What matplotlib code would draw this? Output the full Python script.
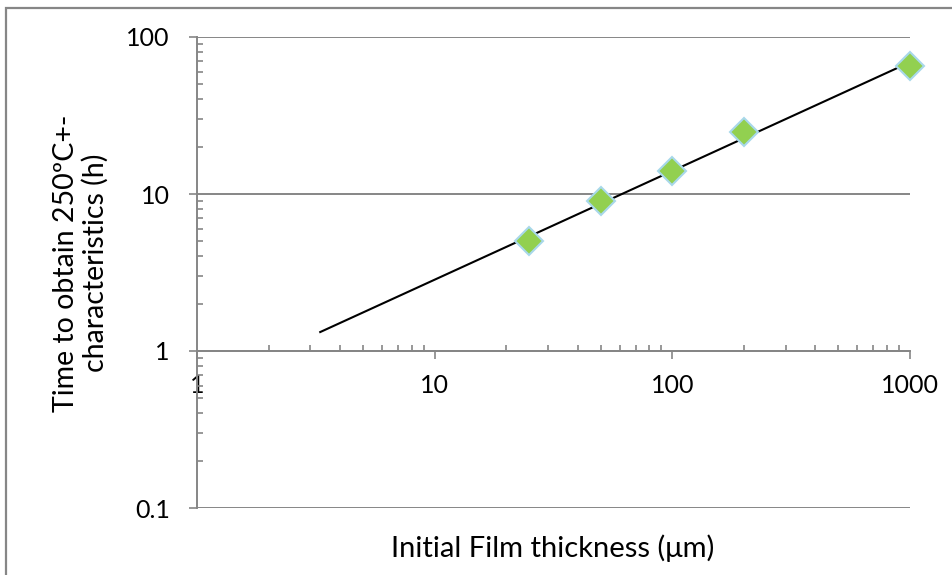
import numpy as np
import matplotlib
matplotlib.use("Agg")
import matplotlib.pyplot as plt
from matplotlib.ticker import LogLocator, FixedLocator, NullFormatter
from matplotlib.patches import Rectangle

plt.rcParams['font.family'] = ['Lato', 'DejaVu Sans']

# measured film thickness (um) vs time (h)
thickness = [25, 50, 100, 200, 1000]
hours = [5, 9, 14, 25, 65]
x_ticks = [1, 10, 100, 1000]
y_ticks = [0.1, 1, 10, 100]

AXIS_GRAY = '#868686'

fig = plt.figure(figsize=(9.52, 5.75), dpi=100)
ax = fig.add_axes([197 / 952, 67 / 575, 713 / 952, 471 / 575])

ax.set_xscale('log')
ax.set_yscale('log')
ax.set_xlim(1, 1000)
ax.set_ylim(0.1, 100)

# power-law trendline fitted in log space, extended back a bit
slope, icpt = np.polyfit(np.log10(thickness), np.log10(hours), 1)
xf = np.array([3.3, 1000])
ax.plot(xf, 10 ** (icpt + slope * np.log10(xf)), color='black', lw=1.5, zorder=3)

ax.plot(thickness, hours, ls='none', marker='D', ms=14, mfc='#92D050',
        mec='#A8D8EA', mew=1.5, zorder=4, clip_on=False)

# horizontal gridlines, x axis crosses at y = 1
ax.yaxis.set_major_locator(FixedLocator(y_ticks))
ax.xaxis.set_major_locator(FixedLocator(x_ticks))
ax.set_yticklabels(['0.1', '1', '10', '100'])
ax.set_xticklabels(['1', '10', '100', '1000'])
ax.xaxis.set_minor_locator(LogLocator(base=10, subs=np.arange(2, 10)))
ax.yaxis.set_minor_locator(LogLocator(base=10, subs=np.arange(2, 10)))
ax.xaxis.set_minor_formatter(NullFormatter())
ax.yaxis.set_minor_formatter(NullFormatter())
ax.grid(axis='y', which='major', color=AXIS_GRAY, lw=1.4)
ax.set_axisbelow(True)

for s in ['top', 'right']:
    ax.spines[s].set_visible(False)
ax.spines['bottom'].set_position(('data', 1))
ax.spines['bottom'].set_color(AXIS_GRAY)
ax.spines['left'].set_color(AXIS_GRAY)
ax.spines['bottom'].set_linewidth(1.4)
ax.spines['left'].set_linewidth(1.4)

ax.tick_params(axis='both', which='major', direction='out', length=5.5, width=1.2,
               color=AXIS_GRAY, labelsize=18, labelcolor='black')
ax.tick_params(axis='both', which='minor', direction='in', length=4, width=1.2,
               color=AXIS_GRAY)
ax.tick_params(axis='x', which='major', pad=11)
ax.tick_params(axis='y', which='major', pad=14)

fig.text(553 / 952, 1 - 548 / 575, 'Initial Film thickness (\u03bcm)', fontsize=21,
         ha='center', va='center')
fig.text(81 / 952, 1 - 263 / 575, 'Time to obtain 250\u00baC+-\ncharacteristics (h)',
         fontsize=20.5, ha='center', va='center', rotation=90, linespacing=1.15)

# chart frame
fig.patches.append(Rectangle((6 / 952, -0.01), 1.0, 1 - 8 / 575 + 0.01,
                             transform=fig.transFigure, fill=False,
                             ec=AXIS_GRAY, lw=1.6))

fig.savefig('out.png', dpi=100)
